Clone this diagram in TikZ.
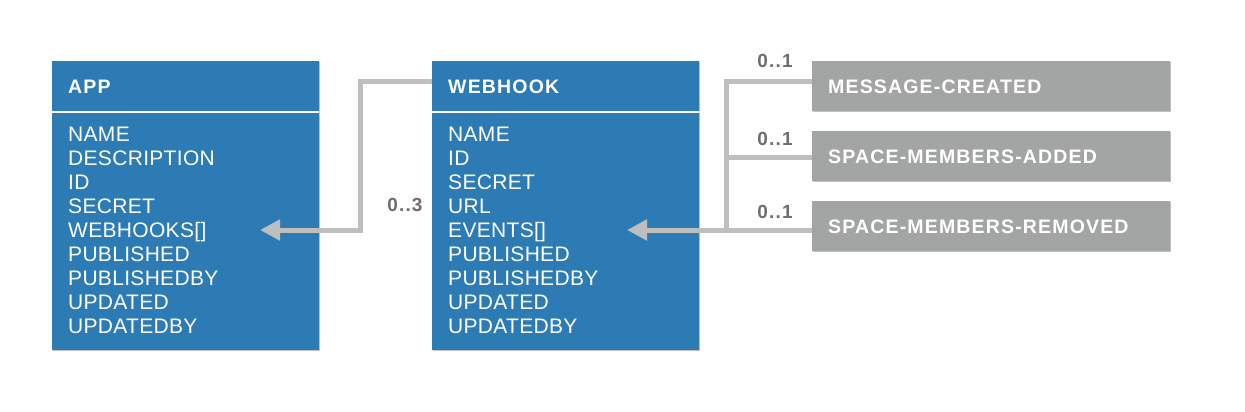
\documentclass[tikz,border=0pt]{standalone}
\usepackage{fontspec}
\setmainfont{Liberation Sans}
\newfontfamily\spacedfont{Liberation Sans}[LetterSpace=6]
\newfontfamily\fieldfont{Liberation Sans}[LetterSpace=1.5]
\usetikzlibrary{arrows.meta,shadows,calc}
\definecolor{entblue}{HTML}{2D7BB5}
\definecolor{evgray}{HTML}{A3A5A4}
\definecolor{linegray}{HTML}{BEBEBE}
\definecolor{labgray}{HTML}{6E6E6E}
\tikzset{
  entity/.style={fill=entblue, draw=none, inner sep=0pt, outer sep=0pt, anchor=north west,
    minimum width=267pt, minimum height=289pt,
    drop shadow={shadow xshift=0.8pt, shadow yshift=-1.2pt, opacity=0.25, fill=black}},
  event/.style={fill=evgray, draw=none, inner sep=0pt, outer sep=0pt, anchor=north west,
    minimum width=358pt, minimum height=50pt,
    drop shadow={shadow xshift=0.8pt, shadow yshift=-1.2pt, opacity=0.25, fill=black}},
  titletext/.style={text=white, inner sep=0pt, anchor=base west, font=\spacedfont\bfseries\fontsize{19.5}{22}\selectfont},
  fieldtext/.style={text=white, inner sep=0pt, anchor=base west, font=\fieldfont\fontsize{21}{24}\selectfont},
  mult/.style={text=labgray, inner sep=0pt, font=\spacedfont\bfseries\fontsize{19}{22}\selectfont},
  conn/.style={draw=linegray, line width=5pt},
  arrowed/.style={-{Triangle[length=20pt,width=20pt]}},
  divider/.style={draw=white, line width=2pt}
}
\begin{document}
\begin{tikzpicture}[x=1pt,y=-1pt]
\fill[white] (0,0) rectangle (1245,412);
\useasboundingbox (0,0) rectangle (1245,412);

\coordinate (j1) at (360,230);
\coordinate (apptip) at (260,230);
\coordinate (trunktop) at (726,82);
\coordinate (trunkmid) at (726,157);
\coordinate (whtip) at (627,230);

% entity boxes
\node[entity] (app) at (52,61) {};
\node[entity] (webhook) at (432,61) {};
\draw[divider] ($(app.north west)+(0,50.5)$) -- ($(app.north east)+(0,50.5)$);
\draw[divider] ($(webhook.north west)+(0,50.5)$) -- ($(webhook.north east)+(0,50.5)$);

\node[titletext] (apptitle) at (68,93) {APP};
\node[titletext] (webhooktitle) at (448,93) {WEBHOOK};

\foreach \t [count=\i] in {NAME,DESCRIPTION,ID,SECRET,WEBHOOKS[],PUBLISHED,PUBLISHEDBY,UPDATED,UPDATEDBY}
  \node[fieldtext] (app-f\i) at (68,{141.5+24*(\i-1)}) {\t};
\foreach \t [count=\i] in {NAME,ID,SECRET,URL,EVENTS[],PUBLISHED,PUBLISHEDBY,UPDATED,UPDATEDBY}
  \node[fieldtext] (wh-f\i) at (448,{141.5+24*(\i-1)}) {\t};

% event boxes
\node[event] (mc) at (812,61) {};
\node[event] (sa) at (812,131) {};
\node[event] (sr) at (812,201) {};
\node[titletext] (mc-t) at (828,93) {MESSAGE-CREATED};
\node[titletext] (sa-t) at (828,163) {SPACE-MEMBERS-ADDED};
\node[titletext] (sr-t) at (828,233) {SPACE-MEMBERS-REMOVED};

% connectors
\draw[conn,arrowed] ($(webhook.north west)+(0,21)$) -| (j1) -- (apptip);
\draw[conn] ($(mc.west)+(0,-4)$) -- (trunktop) -- (trunkmid);
\draw[conn] ($(sa.west)+(0,1)$) -- (trunkmid) -- (726,232.5);
\draw[conn,arrowed] ($(sr.west)+(0,4)$) -- (whtip);

% multiplicities
\node[mult] (m-app) at (405,205) {0..3};
\node[mult] (m-mc) at (775,61) {0..1};
\node[mult] (m-sa) at (775,139) {0..1};
\node[mult] (m-sr) at (775,212) {0..1};
\end{tikzpicture}
\end{document}
